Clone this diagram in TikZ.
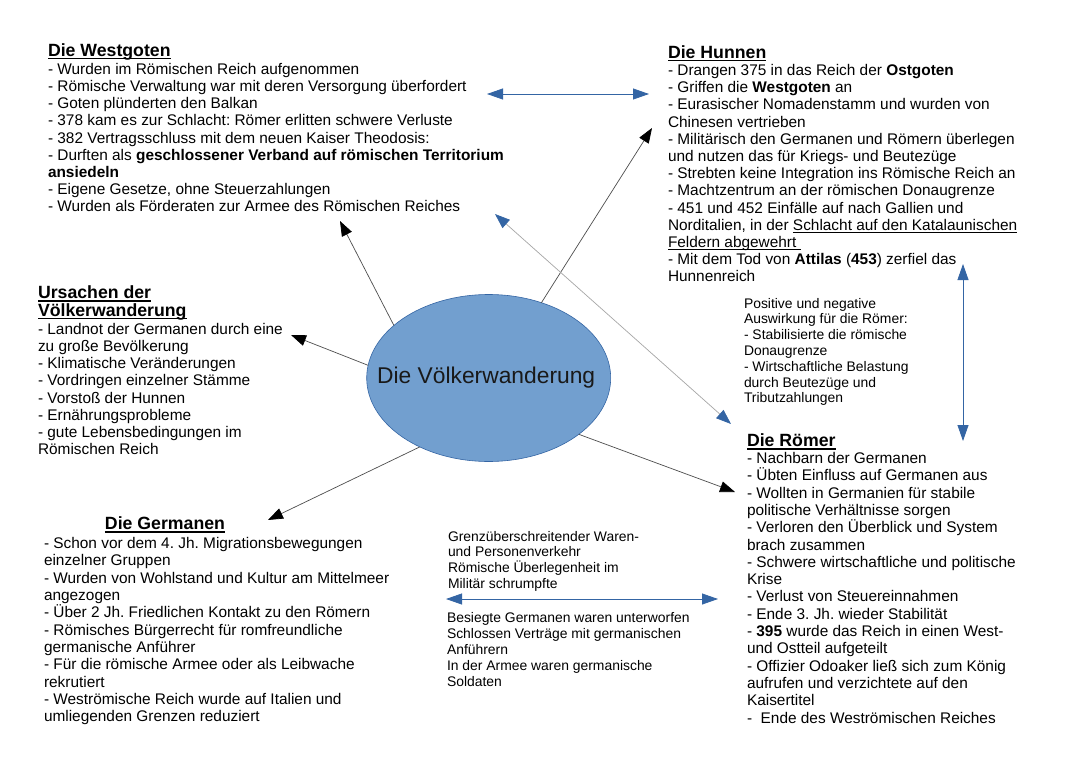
\documentclass[tikz,border=0pt]{standalone}
\usepackage{fontspec}
\setmainfont{Liberation Sans}
\usetikzlibrary{arrows.meta,shapes.geometric}
\definecolor{ellfill}{HTML}{729FCF}
\definecolor{ellline}{HTML}{3465A4}
\definecolor{arrblue}{HTML}{3465A4}
\definecolor{arrgray}{HTML}{4D4D4D}
\definecolor{diaggray}{HTML}{A6A6A6}
\newsavebox\ulbox
\newcommand\bodyul[1]{\sbox\ulbox{#1}\rlap{\rule[-2.6pt]{\wd\ulbox}{1.1pt}}\usebox\ulbox}
\newcommand\titul[1]{\sbox\ulbox{#1}\rlap{\rule[-3.2pt]{\wd\ulbox}{1.5pt}}\usebox\ulbox}
\newcommand\fl{\rule{0pt}{12pt}}
\newcommand\sfl{\rule{0pt}{11pt}}
\newcommand\tfl{\rule{0pt}{13.5pt}}
\frenchspacing
\tikzset{
  body/.style={font=\fontsize{15.4}{17.15}\selectfont, align=left, inner sep=0pt, outer sep=0pt, anchor=north west},
  small/.style={font=\fontsize{13.9}{15.8}\selectfont, align=left, inner sep=0pt, outer sep=0pt, anchor=north west},
  title/.style={font=\bfseries\fontsize{17.7}{17.6}\selectfont, align=left, inner sep=0pt, outer sep=0pt, anchor=base west},
  blackarrow/.style={draw=arrgray, line width=0.7pt, -{Triangle[length=15pt,width=11pt,color=black]}},
  bluedouble/.style={draw=arrblue, line width=0.8pt, {Triangle[length=16pt,width=11pt,color=arrblue]}-{Triangle[length=16pt,width=11pt,color=arrblue]}},
  graydouble/.style={draw=diaggray, line width=0.7pt, {Triangle[length=15pt,width=11pt,color=arrblue]}-{Triangle[length=15pt,width=11pt,color=arrblue]}},
  central/.style={ellipse, fill=ellfill, draw=ellline, line width=0.6pt, minimum width=244pt, minimum height=167pt, inner sep=0pt, outer sep=0pt, font=\fontsize{22.8}{24}\selectfont, text=black!90}
}
\begin{document}
\begin{tikzpicture}[x=1pt,y=-1pt]
\useasboundingbox (0,0) rectangle (1080,763);
\fill[white] (0,0) rectangle (1080,763);

% central ellipse
\node[central] (vw) at (488.7,378) {\makebox[0pt][c]{\hspace*{-5pt}Die Völkerwanderung}};

% Westgoten
\node[title] (wgT) at (48,56) {\titul{Die Westgoten}};
\node[body] (wgB) at (48,62.5) {\fl- Wurden im Römischen Reich aufgenommen\\
- Römische Verwaltung war mit deren Versorgung überfordert\\
- Goten plünderten den Balkan\\
- 378 kam es zur Schlacht: Römer erlitten schwere Verluste\\
- 382 Vertragsschluss mit dem neuen Kaiser Theodosis:\\
- Durften als \textbf{geschlossener Verband auf römischen Territorium}\\
\textbf{ansiedeln}\\
- Eigene Gesetze, ohne Steuerzahlungen\\
- Wurden als Förderaten zur Armee des Römischen Reiches};

% Hunnen
\node[title] (huT) at (668,58) {\titul{Die Hunnen}};
\node[body, font=\fontsize{15.4}{17.2}\selectfont] (huB) at (668,63.5) {\fl- Drangen 375 in das Reich der \textbf{Ostgoten}\\
- Griffen die \textbf{Westgoten} an\\
- Eurasischer Nomadenstamm und wurden von\\
Chinesen vertrieben\\
- Militärisch den Germanen und Römern überlegen\\
und nutzen das für Kriegs- und Beutezüge\\
- Strebten keine Integration ins Römische Reich an\\
- Machtzentrum an der römischen Donaugrenze\\
- 451 und 452 Einfälle auf nach Gallien und\\
Norditalien, in der \bodyul{Schlacht auf den Katalaunischen}\\
\bodyul{Feldern abgewehrt\ }\\
- Mit dem Tod von \textbf{Attilas} (\textbf{453}) zerfiel das\\
Hunnenreich};

% Ursachen
\node[title, anchor=north west] (urT) at (38,285) {\tfl\titul{Ursachen der}\\\titul{Völkerwanderung}};
\node[body] (urB) at (38,322.5) {\fl- Landnot der Germanen durch eine\\
zu große Bevölkerung\\
- Klimatische Veränderungen\\
- Vordringen einzelner Stämme\\
- Vorstoß der Hunnen\\
- Ernährungsprobleme\\
- gute Lebensbedingungen im\\
Römischen Reich};

% Positive und negative
\node[small] (pos) at (744,297) {\sfl Positive und negative\\
Auswirkung für die Römer:\\
- Stabilisierte die römische\\
Donaugrenze\\
- Wirtschaftliche Belastung\\
durch Beutezüge und\\
Tributzahlungen};

% Germanen
\node[title, anchor=base] (geT) at (165,529.5) {\titul{Die Germanen}};
\node[body, font=\fontsize{15.4}{17.32}\selectfont] (geB) at (44,536.5) {\fl- Schon vor dem 4. Jh. Migrationsbewegungen\\
einzelner Gruppen\\
- Wurden von Wohlstand und Kultur am Mittelmeer\\
angezogen\\
- Über 2 Jh. Friedlichen Kontakt zu den Römern\\
- Römisches Bürgerrecht für romfreundliche\\
germanische Anführer\\
- Für die römische Armee oder als Leibwache\\
rekrutiert\\
- Weströmische Reich wurde auf Italien und\\
umliegenden Grenzen reduziert};

% Roemer
\node[title] (roT) at (747,446.5) {\titul{Die Römer}};
\node[body, font=\fontsize{15.4}{17.3}\selectfont] (roB) at (747,451.5) {\fl- Nachbarn der Germanen\\
- Übten Einfluss auf Germanen aus\\
- Wollten in Germanien für stabile\\
politische Verhältnisse sorgen\\
- Verloren den Überblick und System\\
brach zusammen\\
- Schwere wirtschaftliche und politische\\
Krise\\
- Verlust von Steuereinnahmen\\
- Ende 3. Jh. wieder Stabilität\\
- \textbf{395} wurde das Reich in einen West-\\
und Ostteil aufgeteilt\\
- Offizier Odoaker ließ sich zum König\\
aufrufen und verzichtete auf den\\
Kaisertitel\\
-\ \ Ende des Weströmischen Reiches};

% middle bottom texts
\node[small] (midU) at (448,530) {\sfl Grenzüberschreitender Waren-\\
und Personenverkehr\\
Römische Überlegenheit im\\
Militär schrumpfte};
\node[small, font=\fontsize{13.9}{16}\selectfont] (midL) at (447,611) {\sfl Besiegte Germanen waren unterworfen\\
Schlossen Verträge mit germanischen\\
Anführern\\
In der Armee waren germanische\\
Soldaten};

% free arrow ends
\coordinate (wgTip) at (340,221);
\coordinate (urTip) at (291,335);
\coordinate (huTip) at (652,128);
\coordinate (roTip) at (735,492);
\coordinate (geTip) at (268,520);
\coordinate (dA) at (495,214);
\coordinate (dB) at (731,424);
\coordinate (tA) at (487,94);
\coordinate (tB) at (649,94);
\coordinate (vA) at (963,264);
\coordinate (vB) at (963,441);
\coordinate (bA) at (446,599);
\coordinate (bB) at (718,599);

% connectors
\draw[blackarrow] (vw.151.3) -- (wgTip);
\draw[blackarrow] (vw.174.8) -- (urTip);
\draw[blackarrow] (vw.55.6) -- (huTip);
\draw[blackarrow] (vw.-32.9) -- (roTip);
\draw[blackarrow] (vw.-135.7) -- (geTip);
\draw[graydouble] (dA) -- (dB);
\draw[bluedouble] (tA) -- (tB);
\draw[bluedouble] (vA) -- (vB);
\draw[bluedouble] (bA) -- (bB);
\end{tikzpicture}
\end{document}
